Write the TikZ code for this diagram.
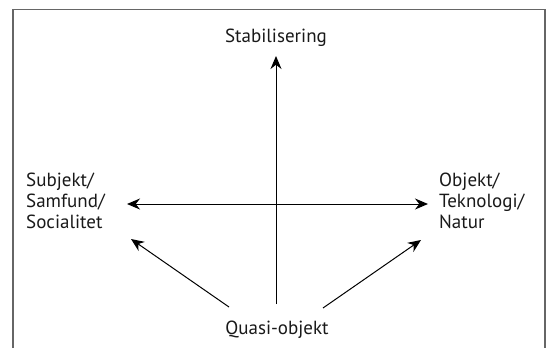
\documentclass[tikz,border=0pt]{standalone}
\usepackage{fontspec}
\setmainfont{PT Sans}
\usetikzlibrary{arrows.meta}
\begin{document}
\begin{tikzpicture}[x=1pt,y=-1pt,
  lbl/.style={font=\fontsize{19}{21}\selectfont, inner sep=0pt, text=black!90},
  tip/.tip={Stealth[length=13pt,width=11pt]},
  arr/.style={line width=1pt, -tip},
  frame/.style={line width=1.3pt, draw=black!60}]
\useasboundingbox (0,0) rectangle (546,348);
\draw[frame] (13,348) -- (13,9.5) -- (545,9.5) -- (545,348);
\node[lbl, anchor=base] (stab) at (276,42) {Stabilisering};
\node[lbl, anchor=base] (quasi) at (277,334) {Quasi-objekt};
\node[lbl, anchor=base west, align=left] (subj) at (26,228.5) {Subjekt/\\Samfund/\\Socialitet};
\node[lbl, anchor=base west, align=left] (obj) at (439,228.5) {Objekt/\\Teknologi/\\Natur};
\coordinate (vb) at (276,304);
\coordinate (vt) at (276,56);
\coordinate (hl) at (127,204);
\coordinate (hr) at (428,204);
\coordinate (dlt) at (229,307);
\coordinate (dlh) at (131,239);
\coordinate (drt) at (323,308);
\coordinate (drh) at (421,240);
\draw[arr] (vb) -- (vt);
\draw[arr, tip-tip] (hl) -- (hr);
\draw[arr] (dlt) -- (dlh);
\draw[arr] (drt) -- (drh);
\end{tikzpicture}
\end{document}
